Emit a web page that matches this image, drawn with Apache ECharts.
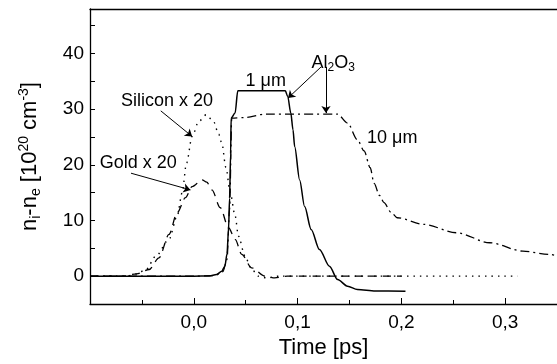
<!DOCTYPE html>
<html>
<head>
<meta charset="utf-8">
<script src="https://cdn.jsdelivr.net/npm/echarts@6/dist/echarts.min.js"></script>
<style>
  html, body { margin: 0; padding: 0; background: #fff; }
  #fig_density { width: 557px; height: 364px; }
</style>
</head>
<body>
<div id="fig_density"></div>
<script>
// curves: [time ps, n_i - n_e in 1e20 cm^-3]
var al2o3_1um = [
    [-0.1, 0], [0.0, 0], [0.015, 0.05], [0.022, 0.3], [0.027, 0.9], [0.030, 1.8],
    [0.032, 4], [0.0335, 8.4], [0.0345, 14], [0.0355, 22], [0.036, 28.4],
    [0.0398, 29.3], [0.0424, 33.3], [0.0882, 33.3], [0.0905, 32.3], [0.0935, 29.3],
    [0.0956, 26.3], [0.0972, 23.3], [0.102, 17.3], [0.1068, 12.5], [0.1131, 8.4],
    [0.1211, 4.8], [0.1307, 1.8], [0.1386, -0.6], [0.1482, -1.8], [0.1577, -2.4],
    [0.175, -2.65], [0.204, -2.7]
];
var al2o3_10um = [
    [-0.1, 0], [0.0, 0], [0.02, 0.1], [0.028, 0.8], [0.032, 3], [0.0345, 12],
    [0.0366, 28.4], [0.0494, 28.5], [0.0685, 29.1], [0.1386, 29.1], [0.1482, 27.5],
    [0.1577, 24.5], [0.1641, 22.5], [0.170, 19.5], [0.1737, 16.7], [0.179, 14.5],
    [0.1833, 13.2], [0.190, 11.5], [0.196, 10.5], [0.2215, 9.3], [0.2533, 7.8],
    [0.2852, 6.0], [0.3171, 4.5], [0.3425, 3.9], [0.35, 3.7]
];
var silicon_x20 = [
    [-0.1, 0], [-0.065, 0], [-0.055, 0.4], [-0.046, 1.2], [-0.0366, 3.6],
    [-0.0239, 6.6], [-0.016, 10.8], [-0.0112, 15], [-0.007, 20.3], [-0.0016, 25.1],
    [0.0048, 27.8], [0.012, 29.0], [0.019, 27.8], [0.024, 25.5], [0.027, 23.9],
    [0.031, 19.5], [0.0351, 15], [0.0399, 10.8], [0.043, 7.2], [0.0494, 3.6],
    [0.055, 1.5], [0.062, 0], [0.070, -0.3], [0.082, 0], [0.312, 0]
];
var gold_x20 = [
    [-0.1, 0], [-0.07, 0], [-0.055, 0.4], [-0.043, 1.2], [-0.0335, 3.3],
    [-0.0239, 7.5], [-0.016, 11.4], [-0.008, 14.1], [-0.0016, 16.1], [0.008, 17.3],
    [0.0125, 16.9], [0.0175, 15.5], [0.0255, 12.3], [0.0335, 8.7], [0.0399, 6.6],
    [0.0462, 3.9], [0.0558, 1.5], [0.0686, 0], [0.078, -0.3], [0.09, 0], [0.2, 0]
];

var x_min = -0.1, x_max = 0.35;
var y_min = -5, y_max = 48;

// annotation texts and where they sit (data coords)
var notes = [
    {text: 'Silicon x 20', at: [-0.0258, 31.5]},
    {text: 'Gold x 20', at: [-0.0535, 20.3]},
    {text: '1 \u03bcm', at: [0.0693, 35.0]},
    {text: 'Al{sub|2}O{sub|3}', at: [0.1343, 38.3]},
    {text: '10 \u03bcm', at: [0.1912, 24.9]}
];
// arrows: [from, to]
var arrows = [
    [[-0.0318, 29.7], [-0.0016, 25.1]],
    [[-0.0605, 18.5], [-0.0032, 15.5]],
    [[0.1227, 37.6], [0.0908, 32.0]],
    [[0.1274, 37.6], [0.1274, 29.3]]
];

var fig_density = {
    plot_id: 'fig_density',
    plot_chart: null,

    make_line: function(name, data, type, width) {
        return {
            name: name,
            type: 'line',
            data: data,
            showSymbol: false,
            smooth: 0.3,
            smoothMonotone: 'x',
            lineStyle: { color: '#000', width: width, type: type },
            z: 3
        };
    },

    init: function() {
        var font = 'Liberation Sans, Arial, sans-serif';
        var solid = this.make_line('1 um', al2o3_1um, 'solid', 1.5);

        solid.markLine = {
            silent: true,
            symbol: ['none', 'arrow'],
            symbolSize: 7,
            lineStyle: { color: '#000', width: 1, type: 'solid' },
            label: { show: false },
            data: arrows.map(function(a) {
                return [{coord: a[0]}, {coord: a[1]}];
            })
        };
        solid.markPoint = {
            silent: true,
            symbol: 'circle',
            symbolSize: 1,
            itemStyle: { color: 'transparent' },
            data: notes.map(function(n) {
                return {
                    coord: n.at,
                    label: {
                        show: true,
                        position: 'inside',
                        formatter: n.text,
                        color: '#000',
                        fontFamily: font,
                        fontSize: 18,
                        rich: {
                            sub: { fontSize: 12, verticalAlign: 'bottom', padding: [10, 0, 0, 0] }
                        }
                    }
                };
            })
        };

        this.option = {
            animation: false,
            textStyle: { fontFamily: font, color: '#000' },
            grid: { left: 90, top: 9, width: 471, height: 295 },
            xAxis: [
                {
                    type: 'value',
                    min: x_min, max: x_max, interval: 0.1,
                    name: 'Time [ps]',
                    nameLocation: 'middle',
                    nameGap: 28,
                    nameTextStyle: { fontSize: 22, color: '#000', fontFamily: font },
                    axisLine: { onZero: false, lineStyle: { color: '#000', width: 1.3 } },
                    axisTick: { inside: true, length: 6, lineStyle: { color: '#000' } },
                    minorTick: { show: true, splitNumber: 2, length: 4, lineStyle: { color: '#000' } },
                    splitLine: { show: false },
                    axisLabel: {
                        margin: 9, fontSize: 19, color: '#000', showMaxLabel: false,
                        formatter: function(v) {
                            if (v < -0.05) return '';
                            return v.toFixed(1).replace('.', ',');
                        }
                    }
                },
                {
                    type: 'value', position: 'top',
                    min: x_min, max: x_max,
                    axisLine: { show: true, onZero: false, lineStyle: { color: '#000', width: 1.3 } },
                    axisTick: { show: false },
                    axisLabel: { show: false },
                    splitLine: { show: false }
                }
            ],
            yAxis: {
                type: 'value',
                min: y_min, max: y_max, interval: 5,
                name: 'n{sub|i}-n{sub|e} [10{sup|20} cm{sup|-3}]',
                nameLocation: 'middle',
                nameGap: 47,
                nameTextStyle: {
                    fontSize: 22, color: '#000', fontFamily: font,
                    rich: {
                        sub: { fontSize: 14, verticalAlign: 'bottom', padding: [12, 0, 0, 0] },
                        sup: { fontSize: 14, verticalAlign: 'top', padding: [0, 0, 10, 0] }
                    }
                },
                axisLine: { show: true, onZero: false, lineStyle: { color: '#000', width: 1.3 } },
                axisTick: { inside: true, length: 5, lineStyle: { color: '#000' } },
                axisLabel: {
                    margin: 6, fontSize: 19, color: '#000', showMaxLabel: false,
                    formatter: function(v) {
                        return (v % 10 === 0) ? String(v) : '';
                    }
                },
                splitLine: { show: false }
            },
            series: [
                solid,
                this.make_line('10 um', al2o3_10um, [9, 4, 2, 4], 1.3),
                this.make_line('Silicon x 20', silicon_x20, [1.5, 5], 1.4),
                this.make_line('Gold x 20', gold_x20, [8, 6], 1.3)
            ]
        };

        this.plot_chart = echarts.init(document.getElementById(this.plot_id));
        this.plot_chart.setOption(this.option);
    }
};

fig_density.init();
</script>
</body>
</html>
